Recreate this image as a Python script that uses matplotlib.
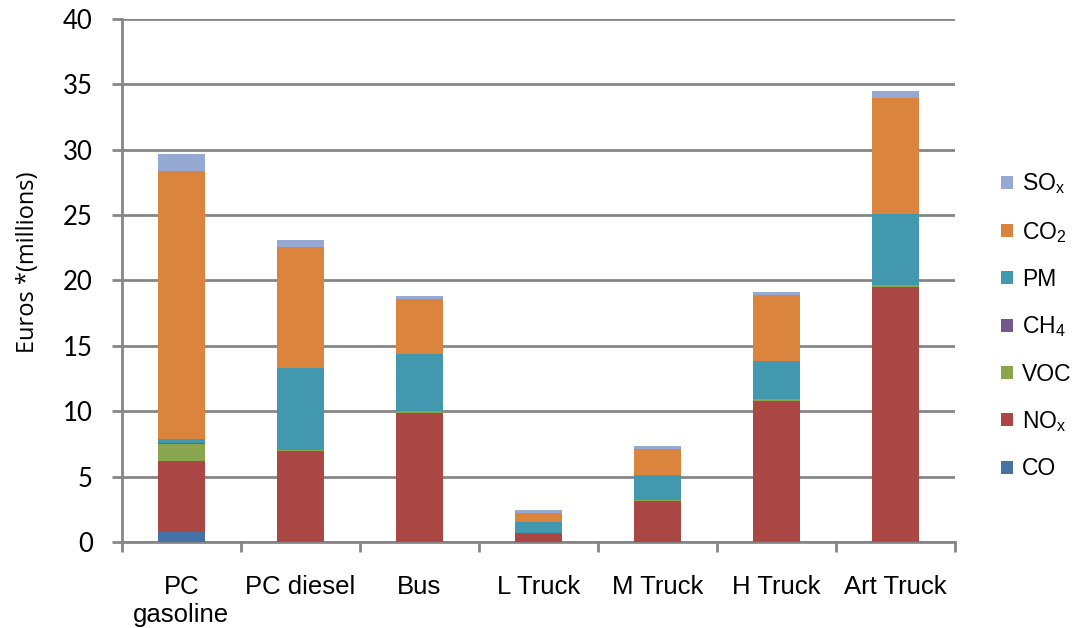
import numpy as np
import matplotlib.pyplot as plt
from matplotlib.patches import Patch

plt.rcParams['font.family'] = ['Liberation Sans', 'DejaVu Sans']
plt.rcParams['mathtext.fontset'] = 'custom'
plt.rcParams['mathtext.rm'] = 'Liberation Sans'

categories = ["PC\ngasoline", "PC diesel", "Bus", "L Truck", "M Truck", "H Truck", "Art Truck"]

# stacked from bottom to top
CO = [0.80, 0.04, 0.04, 0.02, 0.03, 0.05, 0.08]
NOx = [5.42, 6.94, 9.85, 0.59, 3.13, 10.73, 19.40]
VOC = [1.30, 0.05, 0.13, 0.03, 0.04, 0.16, 0.18]
CH4 = [0.05, 0.01, 0.02, 0.01, 0.01, 0.02, 0.02]
PM = [0.31, 6.29, 4.36, 0.88, 1.94, 2.88, 5.41]
CO2 = [20.49, 9.23, 4.18, 0.71, 1.99, 5.08, 8.89]
SOx = [1.28, 0.56, 0.19, 0.21, 0.20, 0.20, 0.54]

series = [CO, NOx, VOC, CH4, PM, CO2, SOx]
labels = ["CO", r"NO$_\mathregular{x}$", "VOC", r"CH$_\mathregular{4}$", "PM",
          r"CO$_\mathregular{2}$", r"SO$_\mathregular{x}$"]
colors = ["#4572A7", "#AA4643", "#89A54E", "#71588F", "#4198AF", "#DB843D", "#95A9D2"]

fig = plt.figure(figsize=(10.79, 6.28), dpi=100)
ax = fig.add_axes([0.113, 0.137, 0.772, 0.833])

x = np.arange(len(categories))
bottom = np.zeros(len(categories))
for vals, col in zip(series, colors):
    ax.bar(x, vals, 0.4, bottom=bottom, color=col, zorder=3)
    bottom += np.array(vals)

grid_col = "#868686"
ax.set_ylim(0, 40)
ax.set_xlim(-0.5, 6.5)
ax.set_yticks(np.arange(0, 41, 5))
ax.yaxis.grid(True, color=grid_col, linewidth=2, zorder=0)
for s in ["top", "right"]:
    ax.spines[s].set_visible(False)
for s in ["left", "bottom"]:
    ax.spines[s].set_color(grid_col)
    ax.spines[s].set_linewidth(2)
ax.spines["left"].set_zorder(4)

ax.set_xticks(x)
ax.set_xticklabels(categories, fontsize=18.5)
ax.set_xticks(np.arange(-0.5, 7, 1), minor=True)
ax.tick_params(axis="x", which="major", length=0, pad=24)
ax.tick_params(axis="x", which="minor", length=7, width=2, color=grid_col)
ax.tick_params(axis="y", length=7, width=2, color=grid_col, pad=14)
for t in ax.get_yticklabels():
    t.set_fontfamily("Lato")
    t.set_fontsize(18.5)

ax.set_ylabel("Euros *(millions)", fontsize=17, family="Open Sans")
ax.yaxis.set_label_coords(-0.098, 0.535)

handles = [Patch(facecolor=c) for c in colors][::-1]
fig.legend(handles, labels[::-1], loc="upper left", bbox_to_anchor=(0.928, 0.727),
           frameon=False, fontsize=16.5, handlelength=0.5, handleheight=0.5,
           handletextpad=0.4, labelspacing=1.02, borderpad=0, borderaxespad=0)

fig.savefig("out.png", dpi=100)
